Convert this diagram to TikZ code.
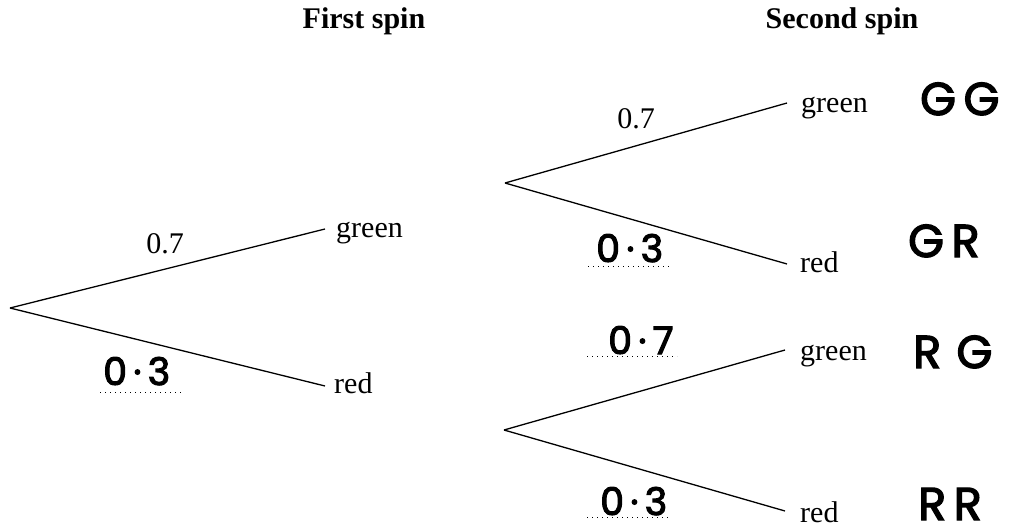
\documentclass[tikz,border=0pt]{standalone}
\usepackage{fontspec}
\setmainfont{Liberation Serif}
\newfontfamily\hand{Poppins}[FakeBold=3]
\begin{document}
\begin{tikzpicture}[x=1pt,y=-1pt,
  branch/.style={line width=1.3pt},
  lbl/.style={inner sep=0pt,font=\fontsize{30}{36}\selectfont},
  title/.style={inner sep=0pt,font=\fontsize{30}{36}\selectfont\bfseries},
  hw/.style={inner sep=0pt,font=\fontsize{38}{44}\selectfont\hand},
  hwcap/.style={inner sep=0pt,font=\fontsize{46}{52}\selectfont\hand},
  dots/.style={line width=1pt,dash pattern=on 1pt off 4pt}]
\useasboundingbox (0,0) rectangle (1009,530);
% titles
\node[title,anchor=base] (t1) at (364,28) {First spin};
\node[title,anchor=base] (t2) at (842,28) {Second spin};
% first spin
\coordinate (r) at (10,308);
\coordinate (e1) at (325,229);
\coordinate (e2) at (325,386);
\draw[branch] (r) -- (e1);
\draw[branch] (r) -- (e2);
\node[lbl,anchor=base west] (g1) at (336,237) {green};
\node[lbl,anchor=base west] (rd1) at (334,393) {red};
\node[lbl,anchor=base] (p1) at (165,253) {0.7};
\node[hw,anchor=base west] (q1) at (103,385) {0\,·\,3};
\coordinate (d1a) at (100,392);
\coordinate (d1b) at (183,392);
\draw[dots] (d1a) -- (d1b);
% second spin, upper
\coordinate (r2) at (505,183);
\coordinate (e3) at (787,103);
\coordinate (e4) at (787,264);
\draw[branch] (r2) -- (e3);
\draw[branch] (r2) -- (e4);
\node[lbl,anchor=base west] (g2) at (801,112) {green};
\node[lbl,anchor=base west] (rd2) at (800,272) {red};
\node[lbl,anchor=base] (p2) at (636,128) {0.7};
\node[hw,anchor=base west] (q2) at (596,262) {0\,·\,3};
\coordinate (d2a) at (588,266);
\coordinate (d2b) at (672,266);
\draw[dots] (d2a) -- (d2b);
\node[hwcap,anchor=base west] (gg) at (920,115) {G\,G};
\node[hwcap,anchor=base west] (gr) at (908,257) {G\,R};
% second spin, lower
\coordinate (r3) at (504,430);
\coordinate (e5) at (785,350);
\coordinate (e6) at (785,511);
\draw[branch] (r3) -- (e5);
\draw[branch] (r3) -- (e6);
\node[lbl,anchor=base west] (g3) at (800,360) {green};
\node[lbl,anchor=base west] (rd3) at (800,522) {red};
\node[hw,anchor=base west] (q3) at (608,354) {0\,·\,7};
\coordinate (d3a) at (587,356);
\coordinate (d3b) at (677,356);
\draw[dots] (d3a) -- (d3b);
\node[hw,anchor=base west] (q4) at (600,515) {0\,·\,3};
\coordinate (d4a) at (587,517);
\coordinate (d4b) at (670,517);
\draw[dots] (d4a) -- (d4b);
\node[hwcap,anchor=base west] (rg) at (913,368) {R\,\,G};
\node[hwcap,anchor=base west] (rr) at (918,520) {R\,R};
\end{tikzpicture}
\end{document}
